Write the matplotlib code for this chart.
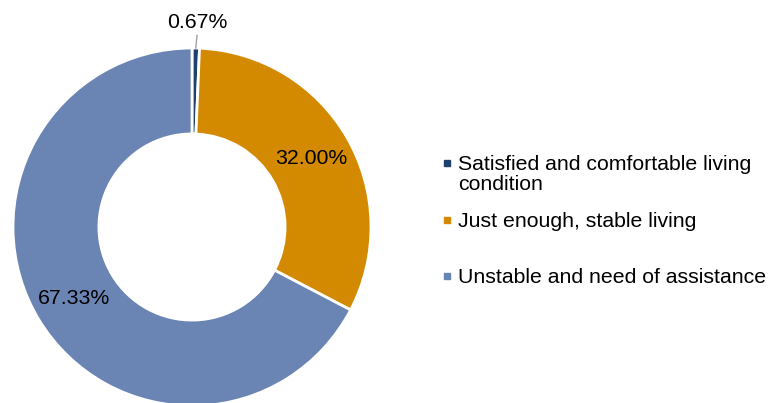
import numpy as np
import matplotlib.pyplot as plt

plt.rcParams['font.family'] = ['Liberation Sans', 'DejaVu Sans']

# survey shares (%)
categories = ['Satisfied and comfortable living\ncondition',
              'Just enough, stable living',
              'Unstable and need of assistance']
shares = [0.67, 32.00, 67.33]
colors = ['#1F3F6E', '#D48A00', '#6A84B4']

W, H = 768, 403
fig = plt.figure(figsize=(W / 100, H / 100), dpi=100)
ax = fig.add_axes([0, 0, 1, 1])

# donut centre and radius in pixels
cx, cy, R = 192, 403 - 227, 179
FS = 15.3

wedges, texts, autotexts = ax.pie(
    shares, colors=colors, startangle=90, counterclock=False, radius=1,
    autopct=lambda p: '%.2f%%' % p, pctdistance=0.77,
    wedgeprops=dict(width=0.48, edgecolor='white', linewidth=2),
    textprops=dict(fontsize=FS, color='black'))

# tiny slice label sits outside with a short leader line
ang = np.deg2rad(90 - shares[0] / 100 * 360 / 2)
autotexts[0].set_position((0.03, 1.145))
ax.plot([np.cos(ang) * 1.0, 0.028], [np.sin(ang) * 1.0, 1.07], color='#A0A0A0', lw=1)

ax.set_xlim(-cx / R, (W - cx) / R)
ax.set_ylim(-cy / R, (H - cy) / R)
ax.set_aspect('equal')
ax.axis('off')

# legend drawn by hand (uneven row spacing in the original)
legend_y = [163, 220, 276]
for lab, col, y in zip(categories, colors, legend_y):
    fig.patches.append(plt.Rectangle((447 / W - 3 / W, 1 - y / H - 3 / H), 6 / W, 6 / H,
                                     transform=fig.transFigure, color=col))
    fig.text(458 / W, 1 - (y - 8) / H, lab, fontsize=FS, va='top', ha='left',
             linespacing=1.1)

fig.savefig('out.png', dpi=100)
